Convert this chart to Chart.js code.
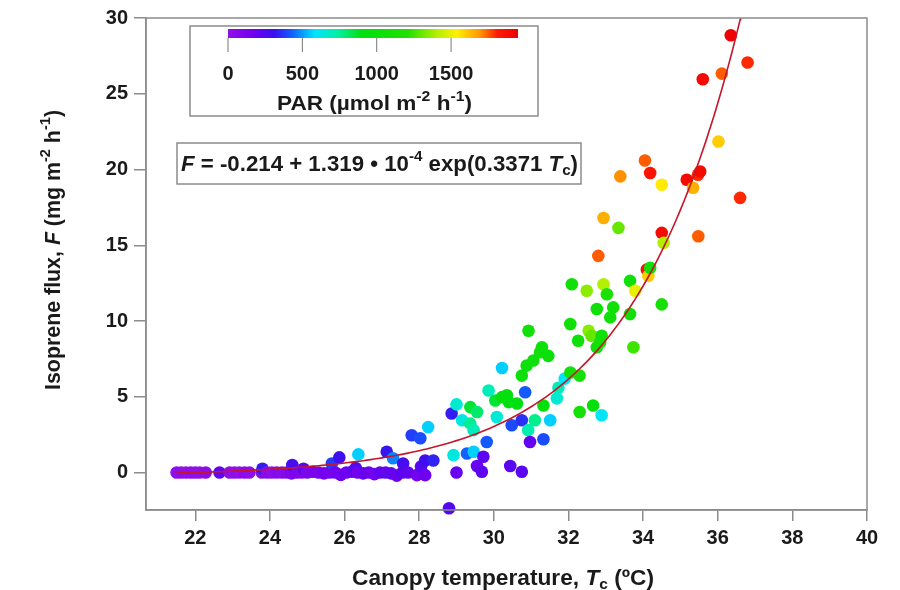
<!DOCTYPE html>
<html><head><meta charset="utf-8">
<script src="https://cdn.jsdelivr.net/npm/chart.js@4.4.1/dist/chart.umd.min.js"></script>
<style>html,body{margin:0;padding:0;background:#fff;}#wrap{width:900px;height:590px;}</style>
</head><body><div id="wrap"><canvas id="c" width="900" height="590"></canvas></div>
<script>
// ---- data ----
const tempC = [21.50,21.62,21.75,21.88,22.00,22.12,22.28,22.65,22.92,23.05,23.18,23.32,23.45,23.78,23.80,23.92,24.05,24.18,24.32,24.45,
24.58,24.60,24.72,24.85,24.90,25.00,25.15,25.30,25.45,25.60,25.66,25.75,25.86,25.90,26.05,26.20,26.30,26.35,26.37,26.50,
26.65,26.80,26.95,27.10,27.13,27.25,27.30,27.40,27.55,27.57,27.70,27.80,27.94,28.03,28.05,28.16,28.16,28.24,28.38,28.80,
28.87,28.92,29.00,29.00,29.15,29.28,29.37,29.37,29.46,29.46,29.55,29.55,29.68,29.72,29.81,29.86,30.04,30.08,30.22,30.22,
30.35,30.40,30.44,30.48,30.62,30.75,30.75,30.75,30.84,30.88,30.92,30.93,30.97,31.06,31.10,31.24,31.29,31.33,31.33,31.46,
31.51,31.69,31.73,31.90,32.05,32.05,32.09,32.26,32.30,32.30,32.49,32.54,32.62,32.66,32.76,32.76,32.80,32.85,32.89,32.89,
32.94,32.94,33.03,33.12,33.20,33.34,33.39,33.65,33.65,33.74,33.79,34.05,34.10,34.14,34.19,34.19,34.50,34.50,34.55,34.50,
35.17,35.34,35.47,35.48,35.53,35.60,36.02,36.11,36.35,36.60,36.80];
const fluxF = [0,0,0,0,0,0,0,0,0,0,0,0,0,0,0.25,0,0,0,0,0,
-0.05,0.50,0,0,0.25,0,0.05,0,-0.05,0,0.60,0,1.00,-0.15,0,0.05,0.30,0,1.20,-0.05,
0,-0.10,0,0,1.37,-0.05,0.95,-0.20,0,0.60,0,2.46,-0.17,2.27,0.40,0.80,-0.17,3.00,0.80,-2.35,
3.90,1.15,4.50,0,3.45,1.26,4.32,3.23,2.80,1.37,4.00,0.43,0.05,1.04,2.02,5.42,4.76,3.67,4.98,6.90,
5.10,4.65,0.43,3.12,4.56,6.40,3.45,0.05,5.30,7.06,2.80,9.36,2.02,7.40,3.45,7.94,8.27,4.43,2.20,7.70,
3.45,4.90,5.60,6.20,6.60,9.80,12.43,8.70,6.40,4.00,12.00,9.36,9.03,4.43,10.80,8.27,14.30,8.60,9.03,3.78,
12.43,16.80,11.77,10.24,10.90,16.15,19.55,12.65,10.46,8.27,12.00,20.60,13.40,12.98,13.52,19.77,19.00,15.82,15.16,11.10,
19.33,18.80,19.66,15.60,19.87,25.96,21.85,26.33,28.86,18.13,27.06];
const parVal = [10,25,15,30,20,10,40,210,30,20,10,40,30,60,330,50,30,70,60,80,
100,280,120,90,220,110,130,120,150,140,380,160,300,170,180,190,260,150,560,200,
180,160,210,200,320,220,470,190,230,280,210,380,150,400,240,300,180,560,340,250,
330,640,660,200,640,430,860,760,700,560,800,200,220,220,420,700,860,650,950,560,
950,900,230,400,900,1000,360,230,420,1000,720,1050,210,1020,760,1050,1030,950,400,1000,
560,660,700,600,1050,1050,1050,1050,1080,1100,1350,1350,1300,950,1050,1050,1750,1100,1050,600,
1400,1650,1150,1050,1050,1300,1700,1050,1050,1250,1500,1750,1850,1600,1050,1850,1550,1900,1400,1100,
1900,1650,1800,1750,1900,1900,1600,1750,1950,1800,1800];
const xTicks = [22,24,26,28,30,32,34,36,38,40];
const yTicks = [0,5,10,15,20,25,30];
const parTicks = [0,500,1000,1500];
const parMax = 1950;
const fitA = -0.214, fitB = 1.319e-4, fitK = 0.3371;

// ---- colour map ----
const cmap = [[0,'#9410e6'],[0.09,'#7000f0'],[0.16,'#3a10f0'],[0.22,'#1060ff'],[0.30,'#00e4ff'],
[0.38,'#00f0a0'],[0.46,'#00e010'],[0.62,'#20e000'],[0.72,'#b4f000'],[0.79,'#fff000'],
[0.87,'#ff9400'],[0.93,'#ff1a00'],[1,'#f00000']];
function hex2rgb(h){return [parseInt(h.substr(1,2),16),parseInt(h.substr(3,2),16),parseInt(h.substr(5,2),16)];}
function parColor(v){
  let f=Math.max(0,Math.min(1,v/parMax));
  for(let i=1;i<cmap.length;i++){
    if(f<=cmap[i][0]){
      const a=cmap[i-1],b=cmap[i];const t=(f-a[0])/(b[0]-a[0]);
      const c1=hex2rgb(a[1]),c2=hex2rgb(b[1]);
      return 'rgb('+c1.map((c,k)=>Math.round(c+(c2[k]-c)*t)).join(',')+')';
    }
  }
  return cmap[cmap.length-1][1];
}

// ---- fit curve from stated equation ----
const tEnd = Math.log((30-fitA)/fitB)/fitK;
const fitPts = [];
for(let t=21.5;t<tEnd;t+=0.1){fitPts.push({x:t,y:fitA+fitB*Math.exp(fitK*t)});}
fitPts.push({x:tEnd,y:30});

const FONT='"Liberation Sans", Arial, Helvetica, sans-serif';
const TXT='#1a1a1a', FRAME='#8c8c8c';
function fontFor(s,size){const sz=(s.sup||s.sub)?Math.round(size*0.68):size;return (s.it?'italic ':'')+'bold '+sz+'px '+FONT;}
function drawRich(ctx,segs,size,cx,by,targetW){
  let total=0;
  segs.forEach(s=>{ctx.font=fontFor(s,size);s.w=ctx.measureText(s.t).width;total+=s.w;});
  const sx=targetW?targetW/total:1;
  ctx.save();ctx.translate(cx,by);ctx.scale(sx,1);
  ctx.fillStyle=TXT;ctx.textBaseline='alphabetic';ctx.textAlign='left';
  let x=-total/2;
  segs.forEach(s=>{ctx.font=fontFor(s,size);const dy=s.sup?-size*0.45:(s.sub?size*0.2:0);ctx.fillText(s.t,x,dy);x+=s.w;});
  ctx.restore();
}

const decor={
  id:'decor',
  afterDraw(chart){
    const ctx=chart.ctx, a=chart.chartArea;
    ctx.save();
    ctx.strokeStyle=FRAME;ctx.lineWidth=1.5;
    ctx.strokeRect(a.left,a.top,a.right-a.left,a.bottom-a.top);
    // y title
    ctx.save();ctx.translate(60,250);ctx.rotate(-Math.PI/2);
    drawRich(ctx,[{t:'Isoprene flux, '},{t:'F',it:1},{t:' (mg m'},{t:'-2',sup:1},{t:' h'},{t:'-1',sup:1},{t:')'}],22,0,0,280);
    ctx.restore();
    // x title
    drawRich(ctx,[{t:'Canopy temperature, '},{t:'T',it:1},{t:'c',sub:1},{t:' (ºC)'}],22,503,585,302);
    // colour bar box
    ctx.fillStyle='#fff';ctx.fillRect(190,26,348,90);
    ctx.strokeStyle=FRAME;ctx.lineWidth=1.5;ctx.strokeRect(190,26,348,90);
    const bx0=228,bx1=518,by0=29,by1=38;
    const g=ctx.createLinearGradient(bx0,0,bx1,0);
    cmap.forEach(s=>g.addColorStop(s[0],s[1]));
    ctx.fillStyle=g;ctx.fillRect(bx0,by0,bx1-bx0,by1-by0);
    ctx.strokeStyle='#777';ctx.lineWidth=1;
    ctx.font='bold 20px '+FONT;ctx.fillStyle=TXT;ctx.textAlign='center';ctx.textBaseline='alphabetic';
    parTicks.forEach(p=>{
      const x=bx0+(bx1-bx0)*p/parMax;
      ctx.beginPath();ctx.moveTo(x,by1);ctx.lineTo(x,52);ctx.stroke();
      ctx.fillText(String(p),x,80);
    });
    drawRich(ctx,[{t:'PAR (µmol m'},{t:'-2',sup:1},{t:' h'},{t:'-1',sup:1},{t:')'}],20,374.5,110,195);
    // formula box
    ctx.fillStyle='#fff';ctx.fillRect(177,143,404,41);
    ctx.strokeStyle=FRAME;ctx.lineWidth=1.5;ctx.strokeRect(177,143,404,41);
    drawRich(ctx,[{t:'F',it:1},{t:' = -0.214 + 1.319 • 10'},{t:'-4',sup:1},{t:' exp(0.3371 '},{t:'T',it:1},{t:'c',sub:1},{t:')'}],22,379.5,171,397);
    ctx.restore();
  }
};

new Chart(document.getElementById('c'),{
  type:'scatter',
  data:{datasets:[
    {type:'line',data:fitPts,borderColor:'#c4162a',borderWidth:1.6,pointRadius:0,tension:0,fill:false,order:0},
    {data:tempC.map((t,i)=>({x:t,y:fluxF[i]})),pointRadius:6.3,pointHoverRadius:6.3,borderWidth:0,
     backgroundColor:c=>parColor(parVal[c.dataIndex]),clip:false,order:1}
  ]},
  options:{
    responsive:false,animation:false,devicePixelRatio:1,
    layout:{padding:{left:0,top:16,right:33,bottom:0}},
    plugins:{legend:{display:false},tooltip:{enabled:false}},
    scales:{
      x:{type:'linear',min:20.68,max:40,
        afterBuildTicks:s=>{s.ticks=xTicks.map(v=>({value:v}));},
        afterFit:s=>{s.height=80;},
        grid:{drawOnChartArea:false,drawTicks:true,tickLength:11,color:FRAME,lineWidth:1.5},
        border:{display:true,color:FRAME,width:1.5},
        ticks:{font:{family:FONT,size:20,weight:'bold'},color:TXT,padding:5,maxRotation:0}},
      y:{type:'linear',min:-2.47,max:30,
        afterBuildTicks:s=>{s.ticks=yTicks.map(v=>({value:v}));},
        afterFit:s=>{s.width=146;},
        grid:{drawOnChartArea:false,drawTicks:true,tickLength:12,color:FRAME,lineWidth:1.5},
        border:{display:true,color:FRAME,width:1.5},
        ticks:{font:{family:FONT,size:20,weight:'bold'},color:TXT,padding:6}}
    }
  },
  plugins:[decor]
});
</script></body></html>
